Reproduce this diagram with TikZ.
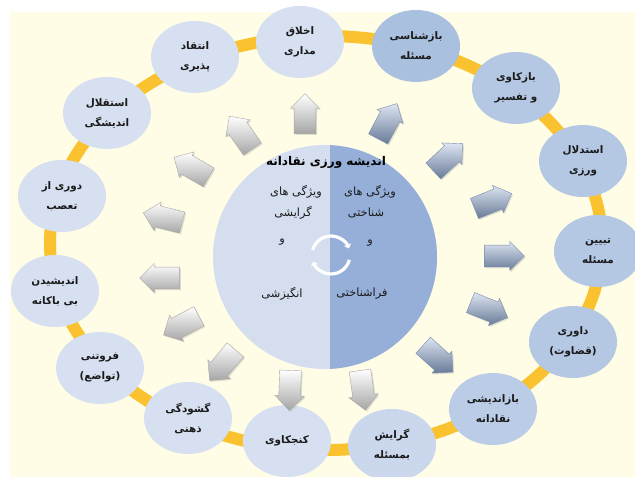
\documentclass[tikz,border=0pt]{standalone}
\usepackage{fontspec}
\TeXXeTstate=1
\newfontfamily\fafont[Script=Arabic]{DejaVu Sans}
\newfontfamily\lafont{DejaVu Sans}
\usetikzlibrary{shapes.geometric,shapes.arrows,shadows,arrows.meta}
\definecolor{cream}{HTML}{FFFDE6}
\definecolor{ringc}{HTML}{F9C22E}
\definecolor{cl}{HTML}{D6E0F0}
\definecolor{cm}{HTML}{B4C7E3}
\definecolor{cd}{HTML}{A9C0DF}
\definecolor{cg}{HTML}{CBD7EC}
\definecolor{coreL}{HTML}{D4DEEE}
\definecolor{coreR}{HTML}{95AFD9}
\definecolor{txt}{HTML}{1A1A1A}
\newcommand{\fl}[1]{\beginR#1\endR}
\newcommand{\lp}{{\lafont\bfseries(}}
\newcommand{\rp}{{\lafont\bfseries)}}
\begin{document}
\begin{tikzpicture}[x=0.75pt,y=0.75pt,
  bubble/.style={ellipse, minimum width=66pt, minimum height=54pt, inner sep=0pt,
    align=center, text=txt, font=\fafont\bfseries\fontsize{7.8}{15}\selectfont},
  barrow/.style={single arrow, minimum height=30pt, minimum width=22pt,
    inner xsep=0pt, inner ysep=5.5pt, single arrow head extend=2pt,
    drop shadow={opacity=0.25, shadow xshift=1pt, shadow yshift=-1pt}},
  grayarrow/.style={barrow, top color=white, bottom color=gray!70, draw=gray!70, line width=0.3pt},
  bluearrow/.style={barrow, top color=coreL!80!white, bottom color=coreR!70!black, draw=coreR!80!black, line width=0.3pt},
  ctext/.style={text=txt, font=\fafont\fontsize{8.5}{10}\selectfont, inner sep=1pt},
]
\useasboundingbox (0,0) rectangle (635,-477);
\fill[white] (0,0) rectangle (635,-477);
\fill[cream] (10,-12) rectangle (635,-477);

% ring
\draw[ringc, line width=9pt] (326,-243) ellipse [x radius=276, y radius=207];

% bubbles
\node[bubble, fill=cl] (c1) at (195,-57) {\fl{انتقاد}\\\fl{پذیری}};
\node[bubble, fill=cl] (c2) at (300,-42) {\fl{اخلاق}\\\fl{مداری}};
\node[bubble, fill=cd] (c3) at (416,-46) {\fl{بازشناسی}\\\fl{مسئله}};
\node[bubble, fill=cm] (c4) at (516,-88) {\fl{بازکاوی}\\\fl{و تفسیر}};
\node[bubble, fill=cm] (c5) at (583,-161) {\fl{استدلال}\\\fl{ورزی}};
\node[bubble, fill=cm] (c6) at (598,-251) {\fl{تبیین}\\\fl{مسئله}};
\node[bubble, fill=cm] (c7) at (573,-342) {\fl{داوری}\\\lp\fl{قضاوت}\rp};
\node[bubble, fill=cm!80!cl] (c8) at (493,-409) {\fl{بازاندیشی}\\\fl{نقادانه}};
\node[bubble, fill=cg] (c9) at (392,-445) {\fl{گرایش}\\\fl{بمسئله}};
\node[bubble, fill=cl] (c10) at (287,-441) {\fl{کنجکاوی}};
\node[bubble, fill=cl] (c11) at (188,-418) {\fl{گشودگی}\\\fl{ذهنی}};
\node[bubble, fill=cl] (c12) at (100,-368) {\fl{فروتنی}\\\lp\fl{تواضع}\rp};
\node[bubble, fill=cl] (c13) at (55,-291) {\fl{اندیشیدن}\\\fl{بی باکانه}};
\node[bubble, fill=cl] (c14) at (62,-196) {\fl{دوری از}\\\fl{تعصب}};
\node[bubble, fill=cl] (c15) at (107,-113) {\fl{استقلال}\\\fl{اندیشگی}};

% core circle
\node[circle, minimum size=168pt, inner sep=0pt, fill=coreL] (core) at (325,-257) {};
\begin{scope}
  \clip (325,-257) circle [radius=112];
  \fill[coreR] (330,-130) rectangle (450,-380);
\end{scope}

% arrows
\node[grayarrow, rotate=90]  (a1)  at (305,-119) {};
\node[grayarrow, rotate=125] (a2)  at (244,-137) {};
\node[grayarrow, rotate=150] (a3)  at (196,-170) {};
\node[grayarrow, rotate=166] (a4)  at (168,-219) {};
\node[grayarrow, rotate=180] (a5)  at (165,-278) {};
\node[grayarrow, rotate=208] (a6)  at (186,-323) {};
\node[grayarrow, rotate=230] (a7)  at (226,-361) {};
\node[grayarrow, rotate=268] (a8)  at (290,-385) {};
\node[grayarrow, rotate=278] (a9)  at (362,-385) {};
\node[bluearrow, rotate=318] (a10) at (434,-355) {};
\node[bluearrow, rotate=338] (a11) at (484,-308) {};
\node[bluearrow, rotate=0]   (a12) at (499,-256) {};
\node[bluearrow, rotate=22]  (a13) at (488,-203) {};
\node[bluearrow, rotate=43]  (a14) at (444,-161) {};
\node[bluearrow, rotate=62]  (a15) at (385,-126) {};

% title and core texts
\node[text=black, font=\fafont\bfseries\fontsize{9}{10}\selectfont] (title) at (326,-162) {\fl{اندیشه ورزی نقادانه}};
\node[ctext] (l1) at (296,-192) {\fl{ویژگی های}};
\node[ctext] (l2) at (293,-213) {\fl{گرایشی}};
\node[ctext] (l3) at (282,-242) {\fl{و}};
\node[ctext] (l4) at (282,-294) {\fl{انگیزشی}};
\node[ctext] (r1) at (370,-192) {\fl{ویژگی های}};
\node[ctext] (r2) at (366,-213) {\fl{شناختی}};
\node[ctext] (r3) at (370,-243) {\fl{و}};
\node[ctext] (r4) at (362,-294) {\fl{فراشناختی}};

% cycle symbol
\coordinate (cyc) at (331,-255);
\draw[white, line width=2.4pt, -{Triangle[length=3pt,width=5.5pt]}] ([shift={(165:19)}]cyc) arc[start angle=165, end angle=20, radius=19];
\draw[white, line width=2.4pt, -{Triangle[length=3pt,width=5.5pt]}] ([shift={(345:19)}]cyc) arc[start angle=345, end angle=200, radius=19];
\end{tikzpicture}
\end{document}
